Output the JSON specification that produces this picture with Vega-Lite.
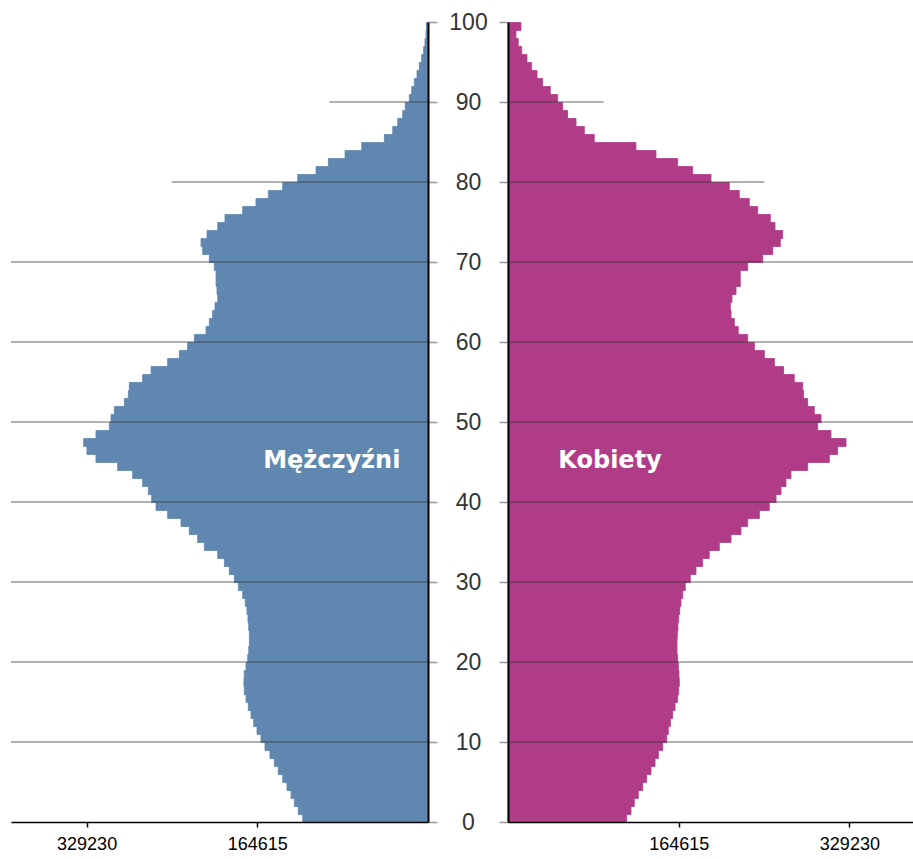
{
  "$schema": "https://vega.github.io/schema/vega-lite/v6.json",
  "background": "white",
  "padding": {"left": 10, "top": 11, "right": 0, "bottom": 0},
  "config": {"view": {"stroke": null}, "bar": {"binSpacing": 0}},
  "spacing": 80,
  "bounds": "flush",
  "datasets": {
    "pop": [
      {"age":0,"sex":"M","population":120800},{"age":1,"sex":"M","population":125100},{"age":2,"sex":"M","population":128900},{"age":3,"sex":"M","population":132100},{"age":4,"sex":"M","population":136000},
      {"age":5,"sex":"M","population":140100},{"age":6,"sex":"M","population":144400},{"age":7,"sex":"M","population":148200},{"age":8,"sex":"M","population":152400},{"age":9,"sex":"M","population":157200},
      {"age":10,"sex":"M","population":161100},{"age":11,"sex":"M","population":164900},{"age":12,"sex":"M","population":168100},{"age":13,"sex":"M","population":170700},{"age":14,"sex":"M","population":173300},
      {"age":15,"sex":"M","population":175500},{"age":16,"sex":"M","population":177200},{"age":17,"sex":"M","population":177500},{"age":18,"sex":"M","population":177200},{"age":19,"sex":"M","population":175500},
      {"age":20,"sex":"M","population":173900},{"age":21,"sex":"M","population":172900},{"age":22,"sex":"M","population":172300},{"age":23,"sex":"M","population":172300},{"age":24,"sex":"M","population":172900},
      {"age":25,"sex":"M","population":173600},{"age":26,"sex":"M","population":174600},{"age":27,"sex":"M","population":176200},{"age":28,"sex":"M","population":178700},{"age":29,"sex":"M","population":182900},
      {"age":30,"sex":"M","population":186800},{"age":31,"sex":"M","population":191600},{"age":32,"sex":"M","population":196400},{"age":33,"sex":"M","population":202800},{"age":34,"sex":"M","population":215700},
      {"age":35,"sex":"M","population":222100},{"age":36,"sex":"M","population":230200},{"age":37,"sex":"M","population":238200},{"age":38,"sex":"M","population":251100},{"age":39,"sex":"M","population":262300},
      {"age":40,"sex":"M","population":266500},{"age":41,"sex":"M","population":269700},{"age":42,"sex":"M","population":275200},{"age":43,"sex":"M","population":284800},{"age":44,"sex":"M","population":299300},
      {"age":45,"sex":"M","population":320200},{"age":46,"sex":"M","population":328900},{"age":47,"sex":"M","population":332100},{"age":48,"sex":"M","population":320200},{"age":49,"sex":"M","population":307300},
      {"age":50,"sex":"M","population":305700},{"age":51,"sex":"M","population":302500},{"age":52,"sex":"M","population":292800},{"age":53,"sex":"M","population":289000},{"age":54,"sex":"M","population":288000},
      {"age":55,"sex":"M","population":275200},{"age":56,"sex":"M","population":267100},{"age":57,"sex":"M","population":251100},{"age":58,"sex":"M","population":239800},{"age":59,"sex":"M","population":231800},
      {"age":60,"sex":"M","population":225300},{"age":61,"sex":"M","population":214100},{"age":62,"sex":"M","population":210900},{"age":63,"sex":"M","population":207700},{"age":64,"sex":"M","population":205400},
      {"age":65,"sex":"M","population":202800},{"age":66,"sex":"M","population":203500},{"age":67,"sex":"M","population":204400},{"age":68,"sex":"M","population":204400},{"age":69,"sex":"M","population":206100},
      {"age":70,"sex":"M","population":210900},{"age":71,"sex":"M","population":217300},{"age":72,"sex":"M","population":218900},{"age":73,"sex":"M","population":213100},{"age":74,"sex":"M","population":202800},
      {"age":75,"sex":"M","population":195800},{"age":76,"sex":"M","population":178700},{"age":77,"sex":"M","population":165900},{"age":78,"sex":"M","population":154000},{"age":79,"sex":"M","population":140100},
      {"age":80,"sex":"M","population":125700},{"age":81,"sex":"M","population":108000},{"age":82,"sex":"M","population":96100},{"age":83,"sex":"M","population":80000},{"age":84,"sex":"M","population":63900},
      {"age":85,"sex":"M","population":42100},{"age":86,"sex":"M","population":34000},{"age":87,"sex":"M","population":29200},{"age":88,"sex":"M","population":24400},{"age":89,"sex":"M","population":21900},
      {"age":90,"sex":"M","population":18000},{"age":91,"sex":"M","population":15700},{"age":92,"sex":"M","population":13200},{"age":93,"sex":"M","population":10600},{"age":94,"sex":"M","population":8400},
      {"age":95,"sex":"M","population":6100},{"age":96,"sex":"M","population":4200},{"age":97,"sex":"M","population":2900},{"age":98,"sex":"M","population":1900},{"age":99,"sex":"M","population":1600},
      {"age":0,"sex":"K","population":114400},{"age":1,"sex":"K","population":118600},{"age":2,"sex":"K","population":121800},{"age":3,"sex":"K","population":125700},{"age":4,"sex":"K","population":129900},
      {"age":5,"sex":"K","population":133700},{"age":6,"sex":"K","population":137900},{"age":7,"sex":"K","population":141800},{"age":8,"sex":"K","population":145000},{"age":9,"sex":"K","population":149200},
      {"age":10,"sex":"K","population":153000},{"age":11,"sex":"K","population":154600},{"age":12,"sex":"K","population":156600},{"age":13,"sex":"K","population":158800},{"age":14,"sex":"K","population":161100},
      {"age":15,"sex":"K","population":163600},{"age":16,"sex":"K","population":164600},{"age":17,"sex":"K","population":165200},{"age":18,"sex":"K","population":164900},{"age":19,"sex":"K","population":164300},
      {"age":20,"sex":"K","population":163600},{"age":21,"sex":"K","population":163000},{"age":22,"sex":"K","population":163000},{"age":23,"sex":"K","population":163300},{"age":24,"sex":"K","population":163900},
      {"age":25,"sex":"K","population":164600},{"age":26,"sex":"K","population":165600},{"age":27,"sex":"K","population":166800},{"age":28,"sex":"K","population":168500},{"age":29,"sex":"K","population":171000},
      {"age":30,"sex":"K","population":175800},{"age":31,"sex":"K","population":181300},{"age":32,"sex":"K","population":187700},{"age":33,"sex":"K","population":194100},{"age":34,"sex":"K","population":203800},
      {"age":35,"sex":"K","population":215100},{"age":36,"sex":"K","population":224700},{"age":37,"sex":"K","population":231200},{"age":38,"sex":"K","population":242400},{"age":39,"sex":"K","population":252000},
      {"age":40,"sex":"K","population":258500},{"age":41,"sex":"K","population":263300},{"age":42,"sex":"K","population":268100},{"age":43,"sex":"K","population":272900},{"age":44,"sex":"K","population":289000},
      {"age":45,"sex":"K","population":309900},{"age":46,"sex":"K","population":317900},{"age":47,"sex":"K","population":326000},{"age":48,"sex":"K","population":311500},{"age":49,"sex":"K","population":298600},
      {"age":50,"sex":"K","population":301900},{"age":51,"sex":"K","population":295400},{"age":52,"sex":"K","population":289000},{"age":53,"sex":"K","population":285100},{"age":54,"sex":"K","population":284200},
      {"age":55,"sex":"K","population":276100},{"age":56,"sex":"K","population":265800},{"age":57,"sex":"K","population":256900},{"age":58,"sex":"K","population":247200},{"age":59,"sex":"K","population":237600},
      {"age":60,"sex":"K","population":231200},{"age":61,"sex":"K","population":222100},{"age":62,"sex":"K","population":218300},{"age":63,"sex":"K","population":215100},{"age":64,"sex":"K","population":214400},
      {"age":65,"sex":"K","population":216000},{"age":66,"sex":"K","population":219900},{"age":67,"sex":"K","population":224000},{"age":68,"sex":"K","population":224000},{"age":69,"sex":"K","population":231200},
      {"age":70,"sex":"K","population":245600},{"age":71,"sex":"K","population":255300},{"age":72,"sex":"K","population":262600},{"age":73,"sex":"K","population":264900},{"age":74,"sex":"K","population":257500},
      {"age":75,"sex":"K","population":253000},{"age":76,"sex":"K","population":240800},{"age":77,"sex":"K","population":232700},{"age":78,"sex":"K","population":223100},{"age":79,"sex":"K","population":213400},
      {"age":80,"sex":"K","population":195800},{"age":81,"sex":"K","population":178100},{"age":82,"sex":"K","population":163600},{"age":83,"sex":"K","population":142700},{"age":84,"sex":"K","population":123400},
      {"age":85,"sex":"K","population":83200},{"age":86,"sex":"K","population":73600},{"age":87,"sex":"K","population":65600},{"age":88,"sex":"K","population":57500},{"age":89,"sex":"K","population":52700},
      {"age":90,"sex":"K","population":47900},{"age":91,"sex":"K","population":40800},{"age":92,"sex":"K","population":33400},{"age":93,"sex":"K","population":28000},{"age":94,"sex":"K","population":22800},
      {"age":95,"sex":"K","population":18300},{"age":96,"sex":"K","population":13200},{"age":97,"sex":"K","population":9900},{"age":98,"sex":"K","population":7700},{"age":99,"sex":"K","population":12500}
    ],
    "grid": [
      {"age":10,"sex":"M","population":402150},{"age":20,"sex":"M","population":402150},{"age":30,"sex":"M","population":402150},{"age":40,"sex":"M","population":402150},{"age":50,"sex":"M","population":402150},
      {"age":60,"sex":"M","population":402150},{"age":70,"sex":"M","population":402150},{"age":80,"sex":"M","population":247200},{"age":90,"sex":"M","population":95200},
      {"age":10,"sex":"K","population":391550},{"age":20,"sex":"K","population":391550},{"age":30,"sex":"K","population":391550},{"age":40,"sex":"K","population":391550},{"age":50,"sex":"K","population":391550},
      {"age":60,"sex":"K","population":391550},{"age":70,"sex":"K","population":391550},{"age":80,"sex":"K","population":247200},{"age":90,"sex":"K","population":92300}
    ],
    "labels": [
      {"sex":"M","text":"Mężczyźni","age":45.1,"population":92800},
      {"sex":"K","text":"Kobiety","age":45.1,"population":98400}
    ]
  },
  "hconcat": [
    {
      "width": 417,
      "height": 800,
      "layer": [
        {
          "data": {"name": "pop"},
          "transform": [{"filter": "datum.sex === 'M'"}],
          "mark": {"type": "bar", "color": "#5f87b0", "stroke": "#5f87b0", "strokeWidth": 0.8, "binSpacing": 0},
          "encoding": {
            "y": {"field": "age", "type": "quantitative", "bin": {"binned": true, "step": 1},
                  "scale": {"domain": [0, 100], "nice": false},
                  "axis": {"orient": "right", "title": null, "values": [0,10,20,30,40,50,60,70,80,90,100], "labels": false,
                           "tickSize": 9, "tickColor": "#999999", "tickWidth": 1.5, "domainColor": "#000000", "domainWidth": 2, "grid": false, "zindex": 1}},
            "x": {"field": "population", "type": "quantitative",
                  "scale": {"domain": [0, 402150], "reverse": true, "nice": false},
                  "axis": {"title": null, "values": [164615, 329230], "format": "d", "tickSize": 5, "tickColor": "#000000", "tickWidth": 1.5,
                           "domainColor": "#000000", "domainWidth": 1.5, "labelFont": "Liberation Sans", "labelFontSize": 18, "labelColor": "#000000",
                           "labelPadding": 8, "grid": false, "zindex": 1}}
          }
        },
        {
          "data": {"name": "grid"},
          "transform": [{"filter": "datum.sex === 'M'"}],
          "mark": {"type": "rule", "color": "#333333", "opacity": 0.5, "strokeWidth": 1.5},
          "encoding": {
            "y": {"field": "age", "type": "quantitative", "title": null},
            "x": {"field": "population", "type": "quantitative", "title": null},
            "x2": {"datum": 0}
          }
        },
        {
          "data": {"name": "labels"},
          "transform": [{"filter": "datum.sex === 'M'"}],
          "mark": {"type": "text", "font": "DejaVu Sans", "fontWeight": "bold", "fontSize": 24, "color": "#ffffff", "align": "center", "baseline": "middle"},
          "encoding": {
            "y": {"field": "age", "type": "quantitative", "title": null},
            "x": {"field": "population", "type": "quantitative", "title": null},
            "text": {"field": "text"}
          }
        }
      ]
    },
    {
      "width": 406,
      "height": 800,
      "layer": [
        {
          "data": {"name": "pop"},
          "transform": [{"filter": "datum.sex === 'K'"}],
          "mark": {"type": "bar", "color": "#b03c88", "stroke": "#b03c88", "strokeWidth": 0.8, "binSpacing": 0},
          "encoding": {
            "y": {"field": "age", "type": "quantitative", "bin": {"binned": true, "step": 1},
                  "scale": {"domain": [0, 100], "nice": false},
                  "axis": {"orient": "left", "title": null, "values": [0,10,20,30,40,50,60,70,80,90,100], "format": "d",
                           "labelAlign": "center", "labelBaseline": "middle", "labelPadding": 31, "labelFont": "Liberation Sans", "labelFontSize": 23, "labelColor": "#333333",
                           "tickSize": 9, "tickColor": "#999999", "tickWidth": 1.5, "domainColor": "#000000", "domainWidth": 2, "grid": false, "zindex": 1}},
            "x": {"field": "population", "type": "quantitative",
                  "scale": {"domain": [0, 391550], "nice": false},
                  "axis": {"title": null, "values": [164615, 329230], "format": "d", "tickSize": 5, "tickColor": "#000000", "tickWidth": 1.5,
                           "domainColor": "#000000", "domainWidth": 1.5, "labelFont": "Liberation Sans", "labelFontSize": 18, "labelColor": "#000000",
                           "labelPadding": 8, "grid": false, "zindex": 1}}
          }
        },
        {
          "data": {"name": "grid"},
          "transform": [{"filter": "datum.sex === 'K'"}],
          "mark": {"type": "rule", "color": "#333333", "opacity": 0.5, "strokeWidth": 1.5},
          "encoding": {
            "y": {"field": "age", "type": "quantitative", "title": null},
            "x": {"field": "population", "type": "quantitative", "title": null},
            "x2": {"datum": 0}
          }
        },
        {
          "data": {"name": "labels"},
          "transform": [{"filter": "datum.sex === 'K'"}],
          "mark": {"type": "text", "font": "DejaVu Sans", "fontWeight": "bold", "fontSize": 24, "color": "#ffffff", "align": "center", "baseline": "middle"},
          "encoding": {
            "y": {"field": "age", "type": "quantitative", "title": null},
            "x": {"field": "population", "type": "quantitative", "title": null},
            "text": {"field": "text"}
          }
        }
      ]
    }
  ]
}
